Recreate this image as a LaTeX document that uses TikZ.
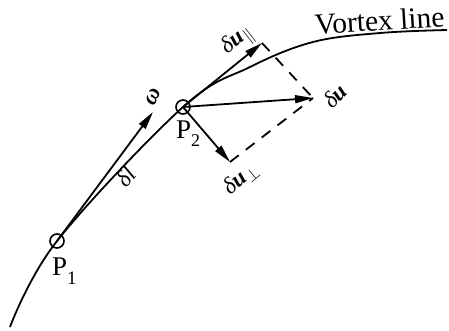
\documentclass[tikz,border=0pt]{standalone}
\usepackage{fontspec}
\setmainfont{Liberation Serif}
\usetikzlibrary{arrows.meta}
\begin{document}
\begin{tikzpicture}[x=1pt,y=1pt,
  vec/.style={line width=1.8pt,-{Triangle[length=18pt,width=8pt]}},
  ptc/.style={circle,draw,line width=1.6pt,minimum size=14pt,inner sep=0pt},
  lab/.style={inner sep=0pt,font=\fontsize{23}{23}\selectfont},
  plab/.style={inner sep=0pt,anchor=base west,font=\fontsize{27}{27}\selectfont},
  dsh/.style={line width=1.8pt,dash pattern=on 11pt off 9pt}]
\useasboundingbox (0,0) rectangle (449,330);
\node[ptc] (P1) at (57,89) {};
\node[ptc] (P2) at (183,223) {};
\coordinate (s) at (10,3);
\coordinate (e) at (447,300);
\coordinate (m1) at (250,263);
\coordinate (m2) at (313,288);
\coordinate (m3) at (380,297);
\draw[line width=1.8pt] plot[smooth,tension=0.6] coordinates {(s) (P1.center) (P2.center) (m1) (m2) (m3) (e)};
\coordinate (W) at (153,218);
\coordinate (A) at (262,287);
\coordinate (B) at (313,232);
\coordinate (C) at (230,168);
\draw[vec] (P1.center) -- (W);
\draw[vec] (P2.center) -- (A);
\draw[vec] (P2.center) -- (B);
\draw[vec] (P2.center) -- (C);
\draw[dsh] (A) -- (B);
\draw[dsh] (C) -- (B);
\node[lab] (om) at (153,233) {\rotatebox{65}{\textbf{\textit{ω}}}};
\node[lab] (dl) at (126,153) {\rotatebox{50}{\textit{δl}}};
\node[lab] (dupar) at (238,289) {\rotatebox{38}{\textit{δ}\textbf{\textit{u}}$_{\parallel}$}};
\node[lab] (du) at (335,234) {\rotatebox{45}{\textit{δ}\textbf{\textit{u}}}};
\node[lab] (duperp) at (241,151) {\rotatebox{40}{\textit{δ}\textbf{\textit{u}}$_{\perp}$}};
\node[inner sep=0pt,font=\fontsize{29.5}{30}\selectfont] (vl) at (379.5,309.5) {\rotatebox{3.5}{Vortex line}};
\node[plab] (p1l) at (52,55) {P\raisebox{-9pt}{\fontsize{19}{19}\selectfont 1}};
\node[plab] (p2l) at (176,192) {P\raisebox{-8pt}{\fontsize{18}{18}\selectfont 2}};
\end{tikzpicture}
\end{document}
